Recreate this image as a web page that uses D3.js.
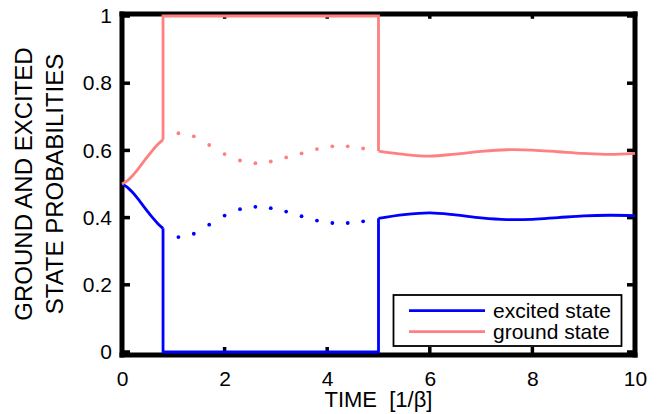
<!DOCTYPE html>
<html>
<head>
<meta charset="utf-8">
<script src="https://cdn.jsdelivr.net/npm/d3@7/dist/d3.min.js"></script>
<style>
  html, body { margin: 0; padding: 0; background: #fff; }
  svg { display: block; font-family: "Liberation Sans", Arial, sans-serif; }
</style>
</head>
<body>
<svg id="chart" width="662" height="414" viewBox="0 0 662 414"></svg>
<script>
// ---- data ----
const tRise = [0, 0.1, 0.2, 0.3, 0.4, 0.5, 0.6, 0.7, 0.8];
const excitedRise = [0.5, 0.491, 0.476, 0.458, 0.438, 0.418, 0.399, 0.382, 0.368];
const groundRise  = [0.5, 0.509, 0.524, 0.542, 0.562, 0.582, 0.601, 0.618, 0.632];

const tPulse = [0.8, 5.0];
const excitedPulse = [0, 0];
const groundPulse = [1, 1];

const tDots = [1.1, 1.4, 1.7, 2.0, 2.3, 2.6, 2.9, 3.2, 3.5, 3.8, 4.1, 4.4, 4.7];
const excitedDots = [0.342, 0.352, 0.379, 0.406, 0.425, 0.432, 0.428, 0.418, 0.404, 0.391, 0.384, 0.384, 0.389];
const groundDots  = [0.651, 0.642, 0.616, 0.589, 0.570, 0.562, 0.567, 0.579, 0.591, 0.604, 0.612, 0.612, 0.606];

const tDecay = [5.0, 5.5, 6.0, 6.5, 7.0, 7.5, 8.0, 8.5, 9.0, 9.5, 10.0];
const excitedDecay = [0.398, 0.409, 0.414, 0.408, 0.399, 0.394, 0.395, 0.400, 0.405, 0.407, 0.406];
const groundDecay  = [0.598, 0.588, 0.583, 0.589, 0.597, 0.602, 0.601, 0.596, 0.591, 0.588, 0.591];

const xTicks = [0, 2, 4, 6, 8, 10];
const xTickLabels = ["0", "2", "4", "6", "8", "10"];
const yTicks = [0, 0.2, 0.4, 0.6, 0.8, 1];
const yTickLabels = ["0", "0.2", "0.4", "0.6", "0.8", "1"];

const seriesNames = ["excited state", "ground state"];
const colors = ["#0000ff", "#ff8080"];

// ---- layout ----
const svg = d3.select("#chart");
const boxL = 122, boxR = 635, boxT = 14, boxB = 355;
const x = d3.scaleLinear().domain([0, 10]).range([boxL, boxR]);
const y = d3.scaleLinear().domain([0, 1]).range([352, 16]);
const FONT = 21;
const FW = 5; // frame thickness

// ---- ticks (inward, drawn as filled marks) ----
const TL = 8, TW = 3.5;
const tk = svg.append("g").attr("fill", "#000");
xTicks.forEach(v => {
  tk.append("rect").attr("x", x(v) - TW / 2).attr("y", boxB - TL).attr("width", TW).attr("height", TL);
  tk.append("rect").attr("x", x(v) - TW / 2).attr("y", boxT).attr("width", TW).attr("height", TL * 0.6);
});
yTicks.forEach(v => {
  tk.append("rect").attr("x", boxL).attr("y", y(v) - TW / 2).attr("width", TL).attr("height", TW);
  tk.append("rect").attr("x", boxR - TL).attr("y", y(v) - TW / 2).attr("width", TL).attr("height", TW);
});

// tick labels through d3 axes
function styleAxis(g) {
  g.select(".domain").remove();
  g.selectAll(".tick line").remove();
  g.selectAll(".tick text").attr("fill", "#000").attr("font-size", FONT)
    .attr("font-family", "'Liberation Sans', Arial, sans-serif");
}
svg.append("g").attr("transform", `translate(0,${boxB})`)
  .call(d3.axisBottom(x).tickValues(xTicks).tickFormat((d, i) => xTickLabels[i])
    .tickSizeInner(0).tickSizeOuter(0).tickPadding(16))
  .call(styleAxis);
svg.append("g").attr("transform", `translate(${boxL},0)`)
  .call(d3.axisLeft(y).tickValues(yTicks).tickFormat((d, i) => yTickLabels[i])
    .tickSizeInner(0).tickSizeOuter(0).tickPadding(10))
  .call(styleAxis);

// ---- box (thick black frame as filled bars) ----
const fr = svg.append("g").attr("fill", "#000");
fr.append("rect").attr("x", boxL - FW / 2).attr("y", boxT - FW / 2).attr("width", boxR - boxL + FW).attr("height", FW);
fr.append("rect").attr("x", boxL - FW / 2).attr("y", boxB - FW / 2).attr("width", boxR - boxL + FW).attr("height", FW);
fr.append("rect").attr("x", boxL - FW / 2).attr("y", boxT - FW / 2).attr("width", FW).attr("height", boxB - boxT + FW);
fr.append("rect").attr("x", boxR - FW / 2).attr("y", boxT - FW / 2).attr("width", FW).attr("height", boxB - boxT + FW);

// ---- series (drawn above the frame) ----
const curve = d3.line().x(d => x(d[0])).y(d => y(d[1])).curve(d3.curveCatmullRom);
const lin = d3.line().x(d => x(d[0])).y(d => y(d[1]));
const zip = (a, b) => a.map((v, i) => [v, b[i]]);

const series = [
  { rise: excitedRise, pulse: excitedPulse, dots: excitedDots, decay: excitedDecay },
  { rise: groundRise,  pulse: groundPulse,  dots: groundDots,  decay: groundDecay }
];

const LW = 2.8;
const plot = svg.append("g");
series.forEach((s, k) => {
  const c = colors[k];
  const step = [
    [tRise[tRise.length - 1], s.rise[s.rise.length - 1]],
    [tPulse[0], s.pulse[0]],
    [tPulse[1], s.pulse[1]],
    [tDecay[0], s.decay[0]]
  ];
  [curve(zip(tRise, s.rise)), lin(step), curve(zip(tDecay, s.decay))].forEach(d => {
    plot.append("path").attr("d", d)
      .attr("fill", "none").attr("stroke", c).attr("stroke-width", LW);
  });
  plot.selectAll(null).data(zip(tDots, s.dots)).enter().append("circle")
    .attr("cx", d => x(d[0])).attr("cy", d => y(d[1])).attr("r", 1.9).attr("fill", c);
});

// ---- legend ----
const lg = svg.append("g");
lg.append("rect").attr("x", 393.5).attr("y", 295).attr("width", 228).attr("height", 51)
  .attr("fill", "#fff").attr("stroke", "#000").attr("stroke-width", 1.8);
seriesNames.forEach((name, i) => {
  const yy = 310.7 + i * 21;
  lg.append("line").attr("x1", 409).attr("x2", 485).attr("y1", yy).attr("y2", yy)
    .attr("stroke", colors[i]).attr("stroke-width", LW);
  lg.append("text").attr("x", 493).attr("y", yy + 6.8).attr("font-size", FONT)
    .attr("fill", "#000").text(name);
});

// ---- axis titles ----
svg.append("text").attr("x", (boxL + boxR) / 2).attr("y", 407)
  .attr("text-anchor", "middle").attr("font-size", 22)
  .text("TIME\u00a0\u00a0[1/β]");
const yTitle = ["GROUND AND EXCITED", "STATE PROBABILITIES"];
yTitle.forEach((t, i) => {
  svg.append("text").attr("transform", `translate(${31.7 + i * 31.6},184) rotate(-90)`)
    .attr("text-anchor", "middle").attr("font-size", 24).attr("fill", "#000").text(t);
});
</script>
</body>
</html>
